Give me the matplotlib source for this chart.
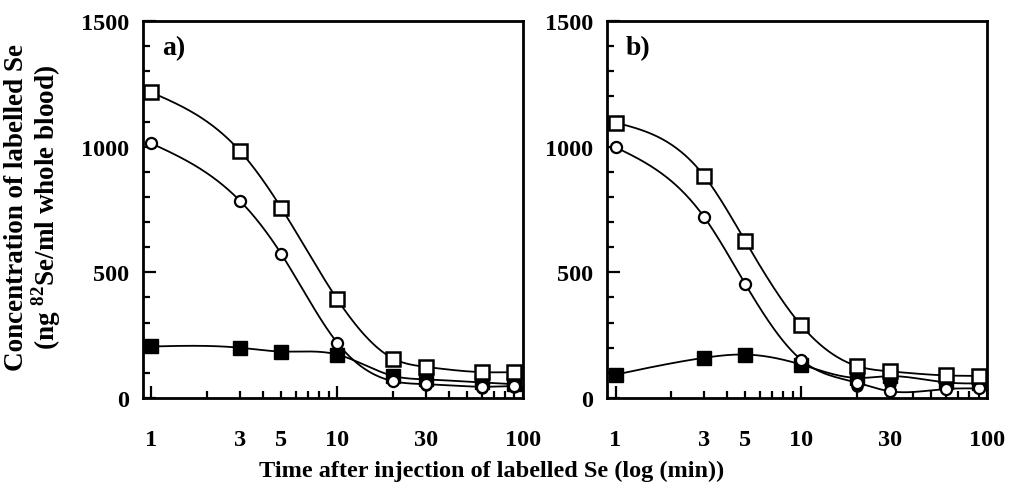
import numpy as np
import matplotlib
matplotlib.use("Agg")
import matplotlib.pyplot as plt
from matplotlib.ticker import FixedLocator, FuncFormatter

plt.rcParams['font.family'] = ['Liberation Serif', 'DejaVu Serif']
plt.rcParams['font.weight'] = 'bold'
plt.rcParams['mathtext.fontset'] = 'custom'
plt.rcParams['mathtext.rm'] = 'Liberation Serif:bold'
plt.rcParams['mathtext.bf'] = 'Liberation Serif:bold'

# ---- data ----
time = [1, 3, 5, 10, 20, 30, 60, 90]
time_late = [20, 30, 60, 90]

a_open_sq = [1216, 982, 756, 393, 157, 124, 103, 103]
a_open_ci = [1013, 784, 573, 220, 67, 55, 45, 48]
a_fill_sq = [205, 200, 185, 173, 88, 74, 62, 55]
a_fill_ci = [70, 53, 40, 45]

b_open_sq = [1096, 884, 624, 289, 127, 106, 90, 88]
b_open_ci = [998, 720, 453, 152, 61, 27, 36, 38]
b_fill_sq = [93, 160, 173, 133, 80, 87, 62, 58]
b_fill_ci = [47, 55, 45, 45]

xtick_major = [1, 10, 100]
xtick_labels = [1, 3, 5, 10, 30, 100]
yticks = [0, 500, 1000, 1500]


def natural_spline(x, y, xs):
    x = np.asarray(x, float); y = np.asarray(y, float)
    n = len(x)
    h = np.diff(x)
    A = np.zeros((n, n)); r = np.zeros(n)
    A[0, 0] = 1; A[-1, -1] = 1
    for i in range(1, n - 1):
        A[i, i - 1] = h[i - 1]
        A[i, i] = 2 * (h[i - 1] + h[i])
        A[i, i + 1] = h[i]
        r[i] = 3 * ((y[i + 1] - y[i]) / h[i] - (y[i] - y[i - 1]) / h[i - 1])
    c = np.linalg.solve(A, r)
    b = (y[1:] - y[:-1]) / h - h * (2 * c[:-1] + c[1:]) / 3
    d = (c[1:] - c[:-1]) / (3 * h)
    idx = np.clip(np.searchsorted(x, xs) - 1, 0, n - 2)
    dx = xs - x[idx]
    return y[idx] + b[idx] * dx + c[idx] * dx ** 2 + d[idx] * dx ** 3


def smooth(ax, t, v):
    lx = np.log10(t)
    xs = np.linspace(lx[0], lx[-1], 400)
    ax.plot(10 ** xs, natural_spline(lx, v, xs), color='black', lw=1.3, zorder=2)


fig = plt.figure(figsize=(10.09, 4.89), dpi=100)
ax_a = fig.add_axes([0.1417, 0.184, 0.3766, 0.771])
ax_b = fig.add_axes([0.6016, 0.184, 0.3766, 0.771])

panels = [
    (ax_a, 'a)', a_open_sq, a_open_ci, a_fill_sq, a_fill_ci),
    (ax_b, 'b)', b_open_sq, b_open_ci, b_fill_sq, b_fill_ci),
]

for ax, lab, osq, oci, fsq, fci in panels:
    t = np.array(time, float)
    for series in (osq, oci, fsq):
        smooth(ax, t, np.array(series, float))
    ax.plot(time_late, fci, 'o', ms=8, mfc='black', mec='black', zorder=3)
    ax.plot(time, fsq, 's', ms=10.5, mfc='black', mec='black', zorder=4)
    ax.plot(time, oci, 'o', ms=8, mfc='white', mec='black', mew=1.6, zorder=5)
    ax.plot(time, osq, 's', ms=10, mfc='white', mec='black', mew=1.8, zorder=6)

    ax.set_xscale('log')
    ax.set_xlim(0.9, 100)
    ax.set_ylim(0, 1500)
    ax.xaxis.set_major_locator(FixedLocator(xtick_major))
    ax.xaxis.set_minor_locator(FixedLocator([2, 3, 4, 5, 6, 7, 8, 9, 20, 30, 40, 50, 60, 70, 80, 90]))
    ax.xaxis.set_major_formatter(FuncFormatter(lambda v, p: f"{int(round(v))}"))
    ax.xaxis.set_minor_formatter(FuncFormatter(
        lambda v, p: f"{int(round(v))}" if int(round(v)) in xtick_labels else ""))
    ax.set_yticks(yticks)
    ax.yaxis.set_minor_locator(FixedLocator(np.arange(0, 1501, 100)))
    ax.tick_params(which='both', direction='in', width=1.6, labelsize=17.5)
    ax.tick_params(which='major', length=9)
    ax.tick_params(which='minor', length=5)
    ax.tick_params(axis='x', which='both', pad=22)
    ax.tick_params(axis='y', which='both', pad=10)
    for s in ax.spines.values():
        s.set_linewidth(2.0)
    ax.text(0.05, 0.93, lab, transform=ax.transAxes, fontsize=20, fontweight='bold',
            va='center', ha='left')

fig.text(0.033, 0.575, 'Concentration of labelled Se\n' + r'(ng $^{82}$Se/ml whole blood)',
         rotation=90, fontsize=19.5, fontweight='bold', ha='center', va='center',
         multialignment='center', linespacing=1.0)
fig.text(0.487, 0.035, 'Time after injection of labelled Se (log (min))', fontsize=17.5,
         fontweight='bold', ha='center', va='center')

fig.savefig('out.png', dpi=100)
